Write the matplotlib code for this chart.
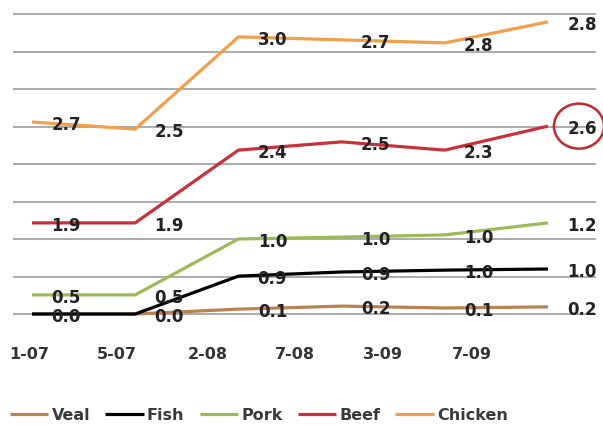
import matplotlib
matplotlib.use("Agg")
import matplotlib.pyplot as plt
from matplotlib.patches import Ellipse

# ---- data ----
categories = ["1-07", "5-07", "2-08", "7-08", "3-09", "7-09"]
series_names = ["Veal", "Fish", "Pork", "Beef", "Chicken"]

veal_vals = [0.0, 0.0, 0.13, 0.21, 0.16, 0.19]
fish_vals = [0.0, 0.0, 1.01, 1.12, 1.17, 1.20]
pork_vals = [0.51, 0.51, 2.00, 2.05, 2.11, 2.43]
beef_vals = [2.43, 2.43, 4.37, 4.59, 4.37, 5.01]
chicken_vals = [5.12, 4.93, 7.39, 7.31, 7.23, 7.79]

veal_labels = ["", "", "0.1", "0.2", "0.1", "0.2"]
fish_labels = ["0.0", "0.0", "0.9", "0.9", "1.0", "1.0"]
pork_labels = ["0.5", "0.5", "1.0", "1.0", "1.0", "1.2"]
beef_labels = ["1.9", "1.9", "2.4", "2.5", "2.3", "2.6"]
chicken_labels = ["2.7", "2.5", "3.0", "2.7", "2.8", "2.8"]

colors = ["#b8834f", "#000000", "#9bbb59", "#c8303a", "#f0a04b"]

values = [veal_vals, fish_vals, pork_vals, beef_vals, chicken_vals]
labels = [veal_labels, fish_labels, pork_labels, beef_labels, chicken_labels]

# ---- figure ----
W, H = 603, 425
fig = plt.figure(figsize=(W / 100, H / 100), dpi=100)
ax = fig.add_axes([13 / W, (H - 325.25) / H, (596 - 13) / W, (325.25 - 6.5) / H])
ax.set_xlim(-0.184, 5.465)
ax.set_ylim(-0.3, 8.2)

for s in ax.spines.values():
    s.set_visible(False)
ax.set_yticks(range(0, 9))
ax.set_yticklabels([])
ax.tick_params(axis="y", length=0)
ax.grid(axis="y", color="#ababab", linewidth=1.4)
ax.set_axisbelow(True)

xs = list(range(len(categories)))
handles = []
for name, vals, labs, col in zip(series_names, values, labels, colors):
    h, = ax.plot(xs, vals, color=col, linewidth=2.3, solid_capstyle="butt",
                 label=name, clip_on=False, zorder=3)
    handles.append(h)
    for x, v, t in zip(xs, vals, labs):
        if t:
            ax.annotate(t, (x + 0.33, v), xytext=(0, -2), textcoords="offset points",
                        ha="center", va="center", fontsize=12, fontweight="bold",
                        color="#222222", zorder=5, annotation_clip=False)

# category tick labels (offset from the line points, as in the reference)
tick_pos = [-0.03, 0.826, 1.70, 2.55, 3.40, 4.26]
ax.set_xticks(tick_pos)
ax.set_xticklabels(categories, fontsize=11.5, fontweight="bold", color="#333333")
ax.tick_params(axis="x", length=0, pad=16)

# red circle highlight around last beef label
ell = Ellipse((5.30, 5.01), 0.485, 1.2, fill=False, edgecolor="#c0282d",
              linewidth=1.8, clip_on=False, zorder=6)
ax.add_patch(ell)

leg = fig.legend(handles=handles, loc="center left",
                 bbox_to_anchor=(10 / W, (H - 415) / H), ncol=5, frameon=False,
                 prop={"size": 11.5, "weight": "bold"}, handlelength=2.4,
                 handletextpad=0.2, columnspacing=0.95, borderpad=0, borderaxespad=0)
for t in leg.get_texts():
    t.set_color("#3a3a3a")

fig.savefig("out.png", dpi=100)
